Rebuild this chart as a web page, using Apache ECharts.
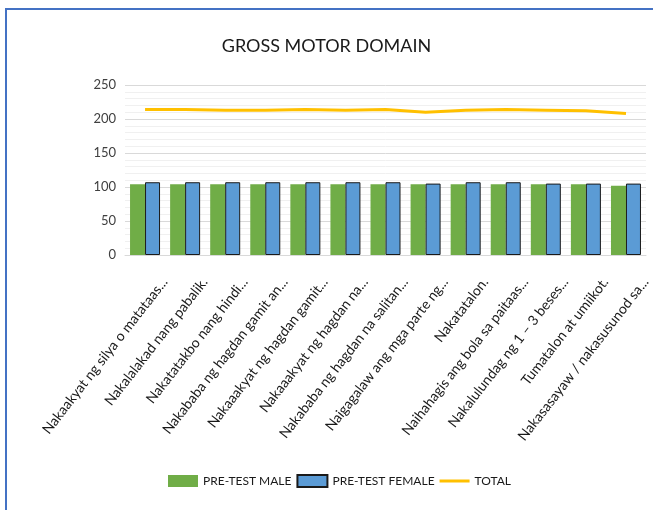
<!DOCTYPE html>
<html>
<head>
<meta charset="utf-8">
<script src="https://cdn.jsdelivr.net/npm/echarts@6/dist/echarts.min.js"></script>
<style>
  body { margin: 0; background: #fff; }
  #wrap { position: relative; width: 653px; height: 510px; }
  #chart { width: 653px; height: 510px; }
  #frame {
    position: absolute; left: 5px; top: 8px; right: -10px; bottom: -10px;
    border-top: 2px solid #4472c4; border-left: 2px solid #4472c4;
    pointer-events: none;
  }
</style>
</head>
<body>
<div id="wrap">
  <div id="chart"></div>
  <div id="frame"></div>
</div>
<script>
  // data
  const categories = [
    'Nakaakyat ng silya o matataas...',
    'Nakalalakad nang pabalik.',
    'Nakatatakbo nang hindi...',
    'Nakababa ng hagdan gamit an...',
    'Nakaaakyat ng hagdan gamit...',
    'Nakaaakyat ng hagdan na...',
    'Nakababa ng hagdan na salitan...',
    'Naigagalaw ang mga parte ng...',
    'Nakatatalon.',
    'Naihahagis ang bola sa paitaas...',
    'Nakalulundag ng 1 – 3 beses...',
    'Tumatalon at umiikot.',
    'Nakasasayaw / nakasusunod sa...'
  ];
  const preTestMale   = [104, 104, 104, 104, 104, 104, 104, 104, 104, 104, 104, 104, 102];
  const preTestFemale = [107, 107, 107, 107, 107, 107, 107, 105, 107, 107, 105, 105, 105];
  const total         = [214, 214, 213, 213, 214, 213, 214, 210, 213, 214, 213, 212, 208];
  const yTicks = { min: 0, max: 250, interval: 50 };

  const font = "Lato, 'Liberation Sans', sans-serif";

  let chart = echarts.init(document.getElementById('chart'));
  let option = {
    backgroundColor: '#fff',
    textStyle: { fontFamily: font },
    title: {
      text: 'GROSS MOTOR DOMAIN',
      left: 'center',
      top: 32,
      textStyle: { fontFamily: font, fontSize: 18, fontWeight: 'normal', color: '#1a1a1a' }
    },
    grid: { left: 125, right: 6, top: 85, bottom: 255, containLabel: false },
    legend: {
      bottom: 17,
      left: 163,
      itemWidth: 30,
      itemHeight: 12,
      itemGap: 5,
      symbolKeepAspect: true,
      textStyle: { fontFamily: font, fontSize: 12, color: '#1a1a1a' },
      data: [
        { name: 'PRE-TEST MALE', icon: 'rect' },
        { name: 'PRE-TEST FEMALE', icon: 'rect' },
        { name: 'TOTAL', icon: 'path://M0,0L30,0L30,3L0,3Z' }
      ]
    },
    xAxis: {
      type: 'category',
      data: categories,
      axisLine: { lineStyle: { color: '#d9d9d9' } },
      axisTick: { show: false },
      axisLabel: {
        interval: 0,
        rotate: 52,
        margin: 9,
        verticalAlign: 'top',
        padding: [18, 0, 0, 0],
        fontSize: 14,
        color: '#1a1a1a',
        fontFamily: font
      }
    },
    yAxis: {
      type: 'value',
      min: yTicks.min,
      max: yTicks.max,
      interval: yTicks.interval,
      axisLine: { show: false },
      axisTick: { show: false },
      axisLabel: { fontSize: 13, color: '#404040', margin: 9, fontFamily: font },
      splitLine: { lineStyle: { color: '#d9d9d9' } },
      minorTick: { show: false, splitNumber: 5 },
      minorSplitLine: { show: true, lineStyle: { color: '#f0f0f0' } }
    },
    series: [
      {
        name: 'PRE-TEST MALE',
        type: 'bar',
        barWidth: 15,
        barGap: '0%',
        itemStyle: { color: '#70ad47' },
        data: preTestMale
      },
      {
        name: 'PRE-TEST FEMALE',
        type: 'bar',
        barWidth: 15,
        itemStyle: { color: '#5b9bd5', borderColor: '#1a1a1a', borderWidth: 1 },
        data: preTestFemale
      },
      {
        name: 'TOTAL',
        type: 'line',
        symbol: 'none',
        lineStyle: { color: '#ffc000', width: 3 },
        itemStyle: { color: '#ffc000' },
        data: total
      }
    ]
  };
  option && chart.setOption(option);
</script>
</body>
</html>
